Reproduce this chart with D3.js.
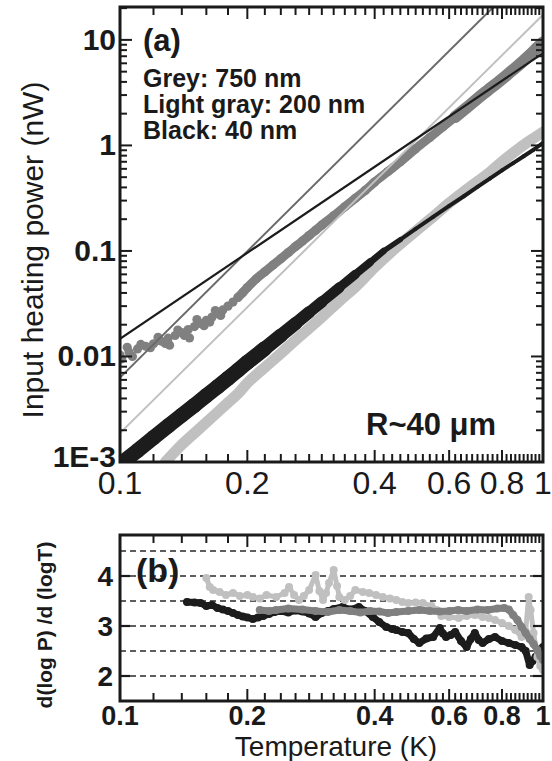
<!DOCTYPE html>
<html><head><meta charset="utf-8">
<script src="https://cdn.jsdelivr.net/npm/d3@7"></script>
<style>
body{margin:0;background:#fff;}
svg{display:block;font-family:"Liberation Sans",Arial,Helvetica,sans-serif;}
</style></head><body>
<svg id="c" width="552" height="761"></svg>
<script>
// ---------------- data ----------------
// Panel (a): input heating power (nW) vs temperature (K)
const greyT = [0.100,0.105,0.110,0.115,0.120,0.125,0.130,0.135,0.140,0.145,0.150,0.155,0.160,0.165,0.170,0.175,0.180,0.185,0.190,0.195,0.200,0.210,0.220,0.230,0.240,0.250,0.260,0.270,0.280,0.290,0.300,0.320,0.340,0.360,0.380,0.400,0.430,0.460,0.500,0.540,0.580,0.620,0.660,0.700,0.740,0.780,0.820,0.860,0.900,0.940,0.970,1.000];
const greyP = [0.0103,0.0110,0.0118,0.0125,0.0132,0.0140,0.0149,0.0158,0.0168,0.0180,0.0192,0.0205,0.0220,0.0236,0.0255,0.0276,0.0300,0.0328,0.0362,0.0402,0.0450,0.0545,0.0635,0.0735,0.0845,0.0965,0.110,0.124,0.140,0.157,0.176,0.215,0.262,0.315,0.375,0.450,0.565,0.700,0.930,1.19,1.50,1.86,2.28,2.78,3.32,3.92,4.62,5.42,6.35,7.45,8.45,9.50];
const greyScatterT = [0.101,0.104,0.107,0.112,0.118,0.123,0.128,0.131,0.137,0.142,0.146,0.152,0.158,0.163,0.168,0.173];
const greyScatterP = [0.0095,0.0122,0.0100,0.0130,0.0121,0.0152,0.0133,0.0128,0.0178,0.0158,0.0150,0.0224,0.0196,0.0212,0.0272,0.0245];

const blackT = [0.100,0.110,0.120,0.130,0.140,0.150,0.160,0.170,0.180,0.190,0.200,0.220,0.240,0.260,0.280,0.300,0.330,0.360,0.390,0.420,0.460,0.500,0.550,0.600,0.650,0.700,0.750,0.800,0.850,0.900,0.950,1.000];
const blackP = [0.00095,0.00128,0.00170,0.00220,0.00278,0.00345,0.00425,0.00515,0.00620,0.00740,0.00880,0.0119,0.0158,0.0205,0.0262,0.0328,0.0450,0.0600,0.0780,0.100,0.128,0.162,0.210,0.267,0.330,0.405,0.488,0.580,0.680,0.790,0.910,1.060];

const lgreyT = [0.128,0.140,0.150,0.160,0.170,0.180,0.190,0.200,0.220,0.240,0.260,0.280,0.300,0.330,0.360,0.400,0.450,0.500,0.550,0.600,0.650,0.700,0.750,0.800,0.850,0.900,0.950,1.000];
const lgreyP = [0.00100,0.00146,0.00188,0.00237,0.00296,0.00365,0.00444,0.00560,0.00790,0.0107,0.0143,0.0185,0.0236,0.0335,0.0455,0.0700,0.108,0.154,0.211,0.284,0.365,0.455,0.560,0.700,0.850,1.010,1.170,1.340];

// straight power-law guide lines: [T start, T end], [P start, P end]
const fitBlackT = [0.1, 1.0], fitBlackP = [0.0147, 7.5];
const fitGreyT  = [0.1, 1.0], fitGreyP  = [0.0063, 60];
const fitLgreyT = [0.1, 1.0], fitLgreyP = [0.00188, 17.3];

// Panel (b): d(log P)/d(log T)
const bBlackT = [0.144,0.150,0.155,0.160,0.165,0.170,0.175,0.180,0.185,0.190,0.195,0.200,0.206,0.212,0.218,0.225,0.232,0.240,0.250,0.260,0.270,0.280,0.290,0.300,0.310,0.320,0.336,0.350,0.367,0.380,0.396,0.410,0.426,0.440,0.450,0.465,0.480,0.495,0.510,0.530,0.550,0.570,0.580,0.590,0.605,0.620,0.640,0.660,0.675,0.690,0.705,0.720,0.745,0.770,0.800,0.830,0.860,0.890,0.910,0.930,0.945,0.960,0.980,1.000];
const bBlackV = [3.48,3.47,3.46,3.40,3.42,3.36,3.33,3.30,3.26,3.22,3.19,3.17,3.14,3.17,3.20,3.24,3.28,3.30,3.27,3.31,3.29,3.25,3.18,3.26,3.30,3.34,3.38,3.33,3.38,3.30,3.18,3.08,2.98,2.94,2.92,2.88,2.86,2.74,2.66,2.75,2.78,2.96,2.85,2.78,2.82,2.88,2.70,2.58,2.74,2.86,2.72,2.66,2.74,2.78,2.70,2.66,2.62,2.58,2.50,2.22,2.30,2.38,2.50,2.58];

const bGreyT = [0.214,0.225,0.234,0.250,0.270,0.290,0.310,0.330,0.350,0.370,0.390,0.410,0.430,0.450,0.480,0.510,0.540,0.570,0.600,0.630,0.660,0.700,0.740,0.780,0.810,0.830,0.850,0.870,0.890,0.910,0.930,0.950,0.970,0.985,1.000];
const bGreyV = [3.32,3.30,3.32,3.35,3.33,3.30,3.28,3.32,3.30,3.27,3.30,3.29,3.26,3.28,3.30,3.32,3.30,3.29,3.30,3.32,3.30,3.33,3.32,3.35,3.36,3.33,3.22,3.12,2.98,2.86,2.74,2.64,2.52,2.40,2.32];

const bLgreyT = [0.160,0.163,0.166,0.172,0.178,0.185,0.192,0.200,0.206,0.214,0.222,0.234,0.245,0.251,0.258,0.265,0.272,0.280,0.290,0.296,0.302,0.307,0.312,0.320,0.326,0.330,0.340,0.350,0.360,0.375,0.388,0.403,0.418,0.435,0.450,0.465,0.480,0.500,0.520,0.545,0.560,0.575,0.600,0.632,0.660,0.690,0.720,0.745,0.770,0.800,0.830,0.860,0.890,0.910,0.925,0.935,0.950,0.970,0.985,1.000];
const bLgreyV = [3.96,3.78,3.72,3.68,3.62,3.66,3.60,3.62,3.58,3.55,3.62,3.58,3.66,3.78,3.62,3.52,3.60,3.72,4.02,3.70,3.52,3.66,3.86,4.12,3.80,3.58,3.52,3.60,3.72,3.68,3.66,3.62,3.58,3.55,3.52,3.48,3.46,3.47,3.46,3.40,3.32,3.20,3.18,3.16,3.20,3.22,3.18,3.16,3.12,3.06,3.00,2.92,2.78,2.90,3.58,3.32,2.86,2.38,2.20,2.12];

// axis tick labels
const xTickVals = [0.1,0.2,0.4,0.6,0.8,1];
const xTickTextA = ["0.1","0.2","0.4","0.6","0.8","1"];
const yTickValsA = [0.001,0.01,0.1,1,10];
const yTickTextA = ["1E-3","0.01","0.1","1","10"];
const yTickValsB = [2,3,4];
const yGridB = [2,2.5,3,3.5,4,4.5];

// ---------------- drawing ----------------
const svg = d3.select("#c");
const C_BLACK = "#1c1c1c", C_GREY = "#808080", C_LGREY = "#c0c0c0";
const L = 120, R = 543;
const x = d3.scaleLog().domain([0.1, 1]).range([L, R]);
const yA = d3.scaleLog().domain([1e-3, 20.5]).range([462, 7]);
const yB = d3.scaleLinear().domain([1.5, 4.82]).range([701, 535]);
const topA = 7, botA = 462, topB = 535, botB = 701;

const defs = svg.append("defs");
defs.append("clipPath").attr("id","clipA").append("rect").attr("x",L).attr("y",topA).attr("width",R-L).attr("height",botA-topA);
defs.append("clipPath").attr("id","clipB").append("rect").attr("x",L).attr("y",topB).attr("width",R-L).attr("height",botB-topB);

// minor x ticks
const xMinor = [];
for (let v = 0.12; v < 0.199; v += 0.02) xMinor.push(+v.toFixed(3));
for (let v = 0.22; v < 0.399; v += 0.02) xMinor.push(+v.toFixed(3));
for (let v = 0.42; v < 0.999; v += 0.02) xMinor.push(+v.toFixed(3));
const xMinorF = xMinor.filter(v => !xTickVals.some(t => Math.abs(t - v) < 1e-6));

function zip(a, b) { return a.map((d, i) => [d, b[i]]); }

// ===== Panel (a) =====
const gA = svg.append("g");
const pa = gA.append("g").attr("clip-path","url(#clipA)");

const lineA = d3.line().x(d => x(d[0])).y(d => yA(d[1])).curve(d3.curveMonotoneX);

// light gray data band
const lg = zip(lgreyT, lgreyP);
pa.append("path").datum(lg).attr("d", lineA).attr("fill","none")
  .attr("stroke", C_LGREY).attr("stroke-width", 11).attr("stroke-linecap","round").attr("stroke-linejoin","round");

// black data band (thick at low T, thin at high T)
const bk = zip(blackT, blackP);
const bw = t => t < 0.2 ? 15 : (t < 0.45 ? 15 - (t - 0.2) / 0.25 * 11 : 4);
for (let i = 0; i < bk.length - 1; i++) {
  pa.append("path").datum([bk[i], bk[i+1]]).attr("d", d3.line().x(d => x(d[0])).y(d => yA(d[1])))
    .attr("fill","none").attr("stroke", C_BLACK).attr("stroke-width", bw(bk[i][0]))
    .attr("stroke-linecap","round");
}

// grey data (dots + band)
const gr = zip(greyT, greyP);
pa.append("path").datum(gr.filter(d => d[0] >= 0.19)).attr("d", lineA).attr("fill","none")
  .attr("stroke", C_GREY).attr("stroke-width", 9).attr("stroke-linecap","round");
pa.append("path").datum(gr.filter(d => d[0] >= 0.6)).attr("d", lineA).attr("fill","none")
  .attr("stroke", C_GREY).attr("stroke-width", 12).attr("stroke-linecap","round");
pa.selectAll(".gd").data(gr.concat(zip(greyScatterT, greyScatterP))).join("circle")
  .attr("cx", d => x(d[0])).attr("cy", d => yA(d[1])).attr("r", 4.6).attr("fill", C_GREY);

// guide lines
const straight = d3.line().x(d => x(d[0])).y(d => yA(d[1]));
pa.append("path").datum(zip(fitLgreyT, fitLgreyP)).attr("d", straight).attr("stroke", C_LGREY).attr("stroke-width", 2).attr("fill","none");
pa.append("path").datum(zip(fitGreyT, fitGreyP)).attr("d", straight).attr("stroke", "#6a6a6a").attr("stroke-width", 2).attr("fill","none");
pa.append("path").datum(zip(fitBlackT, fitBlackP)).attr("d", straight).attr("stroke", C_BLACK).attr("stroke-width", 2.2).attr("fill","none");

// frame
gA.append("rect").attr("x", L).attr("y", topA).attr("width", R - L).attr("height", botA - topA)
  .attr("fill","none").attr("stroke","#1a1a1a").attr("stroke-width", 3);

// x ticks (bottom & top, inside)
function xTicks(g, y0, y1, major, minor, lenMaj, lenMin) {
  g.selectAll(null).data(major).join("line").attr("x1", d => x(d)).attr("x2", d => x(d))
    .attr("y1", y0).attr("y2", y0 - lenMaj).attr("stroke","#1a1a1a").attr("stroke-width",2);
  g.selectAll(null).data(minor).join("line").attr("x1", d => x(d)).attr("x2", d => x(d))
    .attr("y1", y0).attr("y2", y0 - lenMin).attr("stroke","#1a1a1a").attr("stroke-width",2);
  g.selectAll(null).data(major).join("line").attr("x1", d => x(d)).attr("x2", d => x(d))
    .attr("y1", y1).attr("y2", y1 + lenMaj).attr("stroke","#1a1a1a").attr("stroke-width",2);
  g.selectAll(null).data(minor).join("line").attr("x1", d => x(d)).attr("x2", d => x(d))
    .attr("y1", y1).attr("y2", y1 + lenMin).attr("stroke","#1a1a1a").attr("stroke-width",2);
}
xTicks(gA, botA, topA, xTickVals, xMinorF, 12, 8);

// y ticks (log)
const yMinorA = [];
for (let e = -3; e <= 1; e++) for (let k = 2; k <= 9; k++) { const v = k * Math.pow(10, e); if (v < 20.5) yMinorA.push(v); }
function yTicksA(vals, len) {
  gA.selectAll(null).data(vals).join("line").attr("x1", L).attr("x2", L + len)
    .attr("y1", d => yA(d)).attr("y2", d => yA(d)).attr("stroke","#1a1a1a").attr("stroke-width",2);
  gA.selectAll(null).data(vals).join("line").attr("x1", R).attr("x2", R - len)
    .attr("y1", d => yA(d)).attr("y2", d => yA(d)).attr("stroke","#1a1a1a").attr("stroke-width",2);
}
yTicksA(yTickValsA, 12);
yTicksA(yMinorA, 7);

// tick labels
gA.selectAll(null).data(yTickValsA).join("text")
  .attr("x", 116).attr("y", (d, i) => yA(d) + (i === 0 ? 5 : 10)).attr("text-anchor","end")
  .attr("font-size", 30).attr("font-weight","bold").attr("fill","#1a1a1a")
  .text((d, i) => yTickTextA[i]);
gA.selectAll(null).data(xTickVals).join("text")
  .attr("x", d => x(d)).attr("y", 494).attr("text-anchor","middle")
  .attr("font-size", 32).attr("fill","#1a1a1a")
  .text((d, i) => xTickTextA[i]);

// axis title
gA.append("text").attr("transform","translate(43,250) rotate(-90)").attr("text-anchor","middle")
  .attr("font-size", 30).attr("fill","#1a1a1a").text("Input heating power (nW)");

// annotations
gA.append("text").attr("x",143).attr("y",51).attr("font-size",31).attr("font-weight","bold").attr("fill","#1a1a1a").text("(a)");
gA.append("text").attr("x",143).attr("y",87).attr("font-size",25).attr("font-weight","bold").attr("fill","#1a1a1a").text("Grey: 750 nm");
gA.append("text").attr("x",143).attr("y",113).attr("font-size",25).attr("font-weight","bold").attr("fill","#1a1a1a").text("Light gray: 200 nm");
gA.append("text").attr("x",143).attr("y",139).attr("font-size",25).attr("font-weight","bold").attr("fill","#1a1a1a").text("Black: 40 nm");
gA.append("text").attr("x",366).attr("y",435).attr("font-size",31).attr("font-weight","bold").attr("fill","#1a1a1a").text("R~40 μm");

// ===== Panel (b) =====
const gB = svg.append("g");
// dashed grid
gB.selectAll(null).data(yGridB).join("line").attr("x1", L).attr("x2", R)
  .attr("y1", d => yB(d)).attr("y2", d => yB(d)).attr("stroke","#2a2a2a").attr("stroke-width",1.6)
  .attr("stroke-dasharray","6,4");

const pb = gB.append("g").attr("clip-path","url(#clipB)");
const lineB = d3.line().x(d => x(d[0])).y(d => yB(d[1]));
function seriesB(T, V, col, w, r) {
  const d = zip(T, V);
  pb.append("path").datum(d).attr("d", lineB).attr("fill","none").attr("stroke", col)
    .attr("stroke-width", w).attr("stroke-linejoin","round").attr("stroke-linecap","round");
  pb.selectAll(null).data(d).join("circle").attr("cx", p => x(p[0])).attr("cy", p => yB(p[1]))
    .attr("r", r).attr("fill", col);
}
seriesB(bBlackT, bBlackV, C_BLACK, 7, 4);
seriesB(bLgreyT, bLgreyV, C_LGREY, 5, 4);
seriesB(bGreyT, bGreyV, C_GREY, 7, 4);

gB.append("rect").attr("x", L).attr("y", topB).attr("width", R - L).attr("height", botB - topB)
  .attr("fill","none").attr("stroke","#1a1a1a").attr("stroke-width", 3);
xTicks(gB, botB, topB, xTickVals, xMinorF, 12, 8);
gB.selectAll(null).data(yTickValsB).join("line").attr("x1", L).attr("x2", L + 10)
  .attr("y1", d => yB(d)).attr("y2", d => yB(d)).attr("stroke","#1a1a1a").attr("stroke-width",2.2);
gB.selectAll(null).data(yTickValsB).join("line").attr("x1", R).attr("x2", R - 10)
  .attr("y1", d => yB(d)).attr("y2", d => yB(d)).attr("stroke","#1a1a1a").attr("stroke-width",2.2);

gB.selectAll(null).data(yTickValsB).join("text")
  .attr("x", 113).attr("y", d => yB(d) + 10).attr("text-anchor","end")
  .attr("font-size", 28).attr("font-weight","bold").attr("fill","#1a1a1a").text(d => d);
gB.selectAll(null).data(xTickVals).join("text")
  .attr("x", d => x(d)).attr("y", 725).attr("text-anchor","middle")
  .attr("font-size", 27).attr("font-weight","bold").attr("fill","#1a1a1a")
  .text((d, i) => xTickTextA[i]);
gB.append("text").attr("x", 336).attr("y", 756).attr("text-anchor","middle")
  .attr("font-size", 28).attr("fill","#1a1a1a").text("Temperature (K)");
gB.append("text").attr("transform","translate(52,625) rotate(-90)").attr("text-anchor","middle")
  .attr("font-size", 21).attr("font-weight","bold").attr("fill","#1a1a1a").text("d(log P) /d (logT)");
gB.append("text").attr("x",136).attr("y",582).attr("font-size",34).attr("font-weight","bold").attr("fill","#1a1a1a").text("(b)");
</script>
</body></html>
